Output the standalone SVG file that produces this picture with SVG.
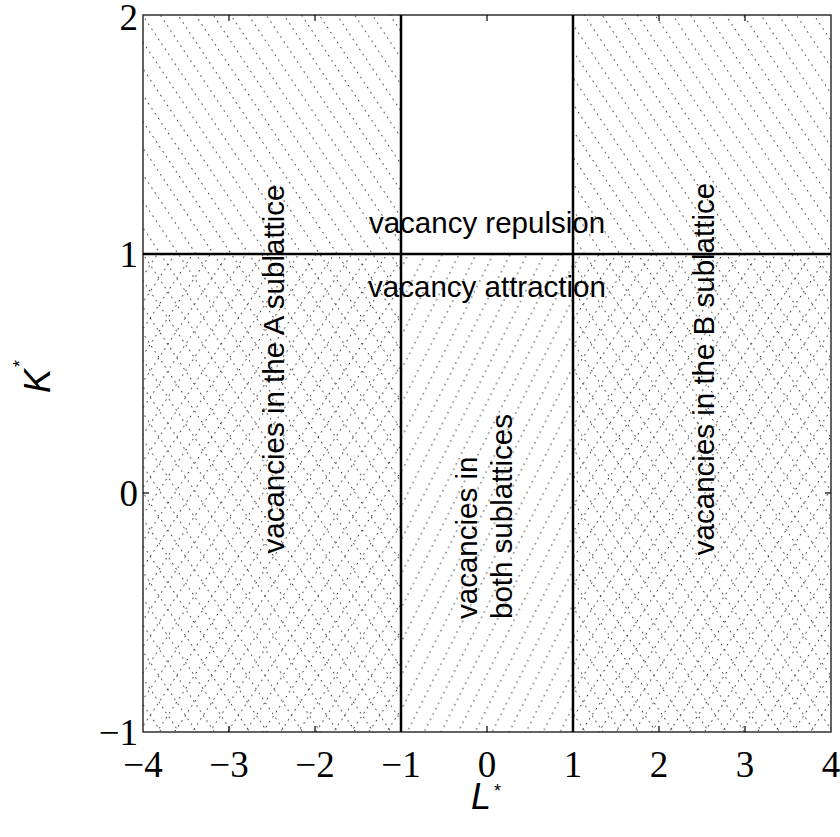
<svg xmlns="http://www.w3.org/2000/svg" width="840" height="837" viewBox="0 0 840 837">
<style>
.hl{stroke:#333;stroke-width:1;stroke-dasharray:1.6 4.4;fill:none}
.frame{fill:none;stroke:#222;stroke-width:1.4}
.div{stroke:#000;stroke-width:2.5;fill:none}
.tick{stroke:#000;stroke-width:1.2}
.lab{font-family:"Liberation Sans",Arial,sans-serif;font-size:29.5px;fill:#000}
.ax{font-family:"Liberation Sans",Arial,sans-serif;font-style:italic;font-size:36px;fill:#000}
.sup{font-family:"Liberation Sans",Arial,sans-serif;font-size:18px;fill:#000}
</style>
<defs>
<pattern id="back" patternUnits="userSpaceOnUse" width="14.7" height="12" patternTransform="rotate(-33.7)">
<line class="hl" x1="7.35" y1="0" x2="7.35" y2="12"/>
</pattern>
<pattern id="fwd" patternUnits="userSpaceOnUse" width="14.7" height="12" patternTransform="rotate(33.7)">
<line class="hl" x1="7.35" y1="0" x2="7.35" y2="12"/>
</pattern>
<pattern id="steep" patternUnits="userSpaceOnUse" width="15.2" height="12" patternTransform="rotate(26.57)">
<line class="hl" x1="7.6" y1="0" x2="7.6" y2="12"/>
</pattern>
</defs>
<rect width="840" height="837" fill="#fff"/>
<g id="region-top-left"><rect x="143" y="15" width="258" height="239" fill="url(#back)"/></g>
<g id="region-top-right"><rect x="573" y="15" width="258" height="239" fill="url(#back)"/></g>
<g id="region-bottom-left"><rect x="143" y="254" width="258" height="478" fill="url(#back)"/><rect x="143" y="254" width="258" height="478" fill="url(#fwd)"/></g>
<g id="region-bottom-right"><rect x="573" y="254" width="258" height="478" fill="url(#back)"/><rect x="573" y="254" width="258" height="478" fill="url(#fwd)"/></g>
<g id="region-bottom-middle"><rect x="401" y="254" width="172" height="478" fill="url(#steep)"/></g>
<g id="axes">
<rect class="frame" x="143" y="15" width="688" height="717"/>
<g class="tick">
<line x1="229" y1="732" x2="229" y2="726"/><line x1="315" y1="732" x2="315" y2="726"/><line x1="401" y1="732" x2="401" y2="726"/><line x1="487" y1="732" x2="487" y2="726"/><line x1="573" y1="732" x2="573" y2="726"/><line x1="659" y1="732" x2="659" y2="726"/><line x1="745" y1="732" x2="745" y2="726"/>
<line x1="229" y1="15" x2="229" y2="21"/><line x1="315" y1="15" x2="315" y2="21"/><line x1="401" y1="15" x2="401" y2="21"/><line x1="487" y1="15" x2="487" y2="21"/><line x1="573" y1="15" x2="573" y2="21"/><line x1="659" y1="15" x2="659" y2="21"/><line x1="745" y1="15" x2="745" y2="21"/>
<line x1="143" y1="254" x2="149" y2="254"/><line x1="143" y1="493" x2="149" y2="493"/>
<line x1="831" y1="254" x2="825" y2="254"/><line x1="831" y1="493" x2="825" y2="493"/>
</g>
<g font-family="'Liberation Serif', 'Times New Roman', serif" font-size="37" fill="#000" text-anchor="middle">
<text x="143" y="777">−4</text>
<text x="229" y="777">−3</text>
<text x="315" y="777">−2</text>
<text x="401" y="777">−1</text>
<text x="487" y="777">0</text>
<text x="573" y="777">1</text>
<text x="659" y="777">2</text>
<text x="745" y="777">3</text>
<text x="831" y="777">4</text>
</g>
<g font-family="'Liberation Serif', 'Times New Roman', serif" font-size="37" fill="#000" text-anchor="end">
<text x="138" y="30">2</text>
<text x="138" y="267">1</text>
<text x="138" y="506">0</text>
<text x="138" y="745">−1</text>
</g>
<text class="ax" x="471" y="809">L</text><text class="sup" x="494" y="797">*</text>
<g transform="translate(50,393) rotate(-90)"><text class="ax" x="0" y="0">K</text><text class="sup" x="26" y="-24">*</text></g>
</g>
<g id="connectors">
<line class="div" x1="401" y1="15" x2="401" y2="732"/>
<line class="div" x1="573" y1="15" x2="573" y2="732"/>
<line class="div" x1="143" y1="254" x2="831" y2="254"/>
</g>
<g id="labels">
<text class="lab" x="487" y="233" text-anchor="middle">vacancy repulsion</text>
<text class="lab" x="487" y="297" text-anchor="middle">vacancy attraction</text>
<text class="lab" transform="translate(284,369) rotate(-90)" text-anchor="middle">vacancies in the A sublattice</text>
<text class="lab" transform="translate(714,369) rotate(-90)" text-anchor="middle">vacancies in the B sublattice</text>
<text class="lab" transform="translate(477,619) rotate(-90)">vacancies in</text>
<text class="lab" transform="translate(512,619) rotate(-90)">both sublattices</text>
</g>
</svg>
